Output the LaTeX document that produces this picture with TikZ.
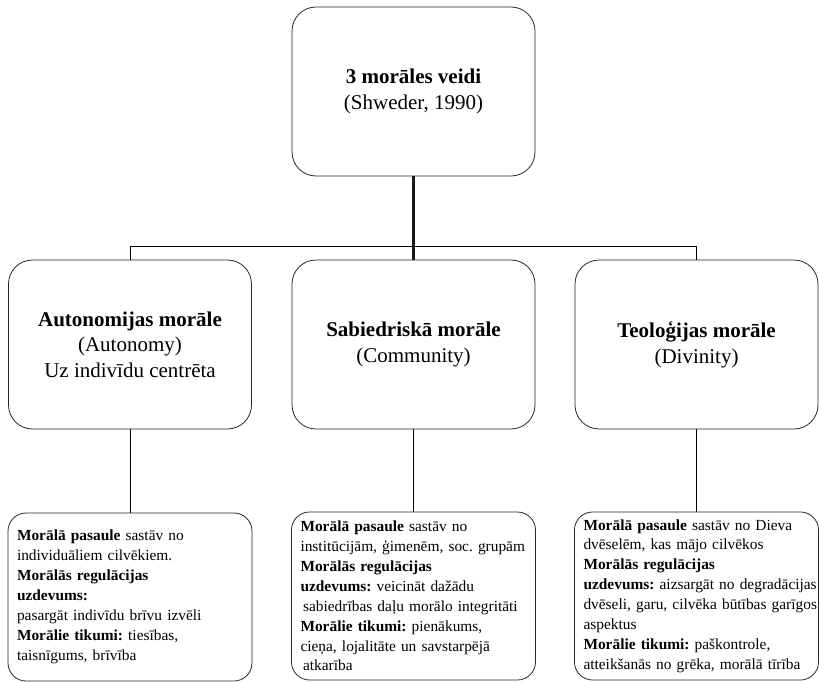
\documentclass[tikz,border=0pt]{standalone}
\usepackage{fontspec}
\setmainfont{Liberation Serif}
\frenchspacing
\newcommand{\oneline}[1]{\mbox{#1}}
\begin{document}
\begin{tikzpicture}[x=1pt,y=-1pt,
  box/.style={draw=black!85, line width=0.8pt, rounded corners=24pt,
    minimum width=243pt, minimum height=169pt, align=center, inner sep=0pt,
    font=\fontsize{21}{25.5}\selectfont},
  detail/.style={draw=black!85, line width=0.8pt, rounded corners=18pt,
    minimum width=244pt, minimum height=168pt, text width=226pt,
    inner xsep=9pt, inner ysep=0pt, align=left,
    font=\fontsize{15.4}{19.9}\selectfont},
  link/.style={line width=0.9pt, black},
  trunk/.style={line width=2.4pt, black!90}]
\useasboundingbox (0,0) rectangle (819,682);

\node[box] (top) at (413.5,91.5) {\textbf{3 morāles veidi}\\(Shweder, 1990)};

\node[box] (L) at (130,344.5) {\textbf{Autonomijas morāle}\\(Autonomy)\\Uz indivīdu centrēta};
\node[box] (M) at (413.5,344.5) {\textbf{Sabiedriskā morāle}\\(Community)};
\node[box] (R) at (696.5,344.5) {\textbf{Teoloģijas morāle}\\(Divinity)};

\node[detail] (BL) at (130,597) {%
\oneline{\textbf{Morālā pasaule} sastāv no}\\
\oneline{individuāliem cilvēkiem.}\\
\oneline{\textbf{Morālās regulācijas}}\\
\oneline{\textbf{uzdevums:}}\\
\oneline{pasargāt indivīdu brīvu izvēli}\\
\oneline{\textbf{Morālie tikumi:} tiesības,}\\
\oneline{taisnīgums, brīvība}};

\node[detail] (BM) at (413.5,596) {%
\oneline{\textbf{Morālā pasaule} sastāv no}\\
\oneline{institūcijām, ģimenēm, soc. grupām}\\
\oneline{\textbf{Morālās regulācijas}}\\
\oneline{\textbf{uzdevums:} veicināt dažādu}\\
\oneline{\,sabiedrības daļu morālo integritāti}\\
\oneline{\textbf{Morālie tikumi:} pienākums,}\\
\oneline{cieņa, lojalitāte un savstarpējā}\\
\oneline{\,atkarība}};

\node[detail] (BR) at (696.5,596) {%
\oneline{\textbf{Morālā pasaule} sastāv no Dieva}\\
\oneline{dvēselēm, kas mājo cilvēkos}\\
\oneline{\textbf{Morālās regulācijas}}\\
\oneline{\textbf{uzdevums:} aizsargāt no degradācijas}\\
\oneline{dvēseli, garu, cilvēka būtības garīgos}\\
\oneline{aspektus}\\
\oneline{\textbf{Morālie tikumi:} paškontrole,}\\
\oneline{atteikšanās no grēka, morālā tīrība}};

\coordinate (bar) at (0,246);
\draw[link] (L.north) -- (L.north |- bar) -- (R.north |- bar) -- (R.north);
\draw[trunk] (top.south) -- (M.north);
\draw[link] (L.south) -- (BL.north);
\draw[link] (M.south) -- (BM.north);
\draw[link] (R.south) -- (BR.north);
\end{tikzpicture}
\end{document}
